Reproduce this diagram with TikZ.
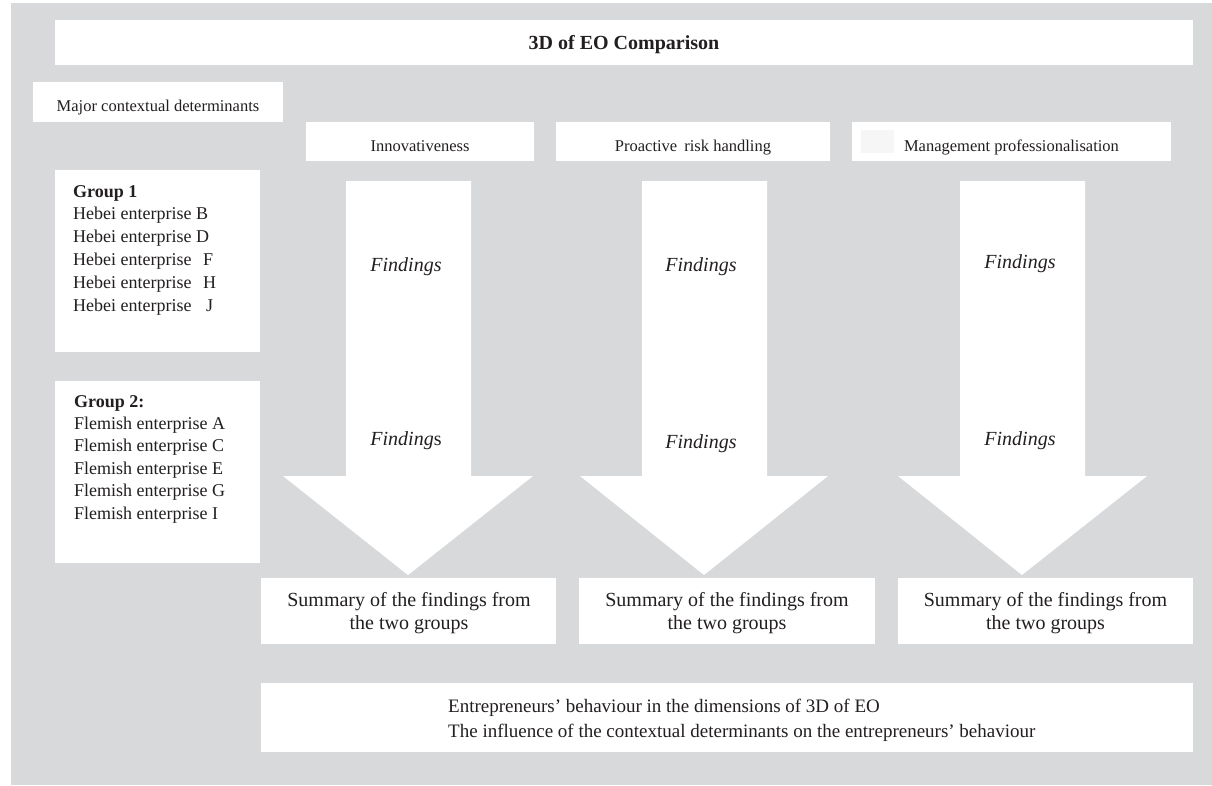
\documentclass[tikz,border=0pt]{standalone}
\usepackage{fontspec}
\setmainfont{Liberation Serif}
\definecolor{bg}{RGB}{216,217,219}
\definecolor{ink}{RGB}{35,31,32}
\definecolor{faint}{RGB}{246,246,247}
\begin{document}
\begin{tikzpicture}[x=1pt,y=-1pt,
  box/.style={fill=white, draw=none, inner sep=0pt, anchor=north west},
  txt/.style={text=ink, inner sep=0pt, anchor=base},
  ltxt/.style={text=ink, inner sep=0pt, anchor=base west},
  hdr/.style={txt, font=\fontsize{16.5}{19}\selectfont},
  grp/.style={ltxt, font=\fontsize{18}{22}\selectfont},
  sum/.style={txt, font=\fontsize{20}{23}\selectfont},
  fnd/.style={txt, font=\fontsize{20}{23}\selectfont\itshape},
  bot/.style={ltxt, font=\fontsize{19}{23}\selectfont},
  bigarrow/.style={fill=white}]
\useasboundingbox (0,0) rectangle (1212,785);
\fill[bg] (11,3) rectangle (1212,785);

% title
\node[box, minimum width=1138, minimum height=45] (title) at (55,20) {};
\node[txt, font=\fontsize{20}{23}\selectfont\bfseries] (titletext) at (624,49.5) {3D of EO Comparison};

% major contextual determinants
\node[box, minimum width=250, minimum height=40] (major) at (33,82) {};
\node[hdr] (majortext) at (158,111.5) {Major contextual determinants};

% dimension headers
\node[box, minimum width=228, minimum height=39] (innov) at (306,122) {};
\node[box, minimum width=274, minimum height=39] (proact) at (556,122) {};
\node[box, minimum width=319, minimum height=39] (manag) at (852,122) {};
\fill[faint] (861,130) rectangle (894,153);
\begin{scope}
\clip (0,0) rectangle (1212,154.5);
\node[hdr] (innovtext) at (420,151.5) {Innovativeness};
\node[hdr] (proacttext) at (693,151.5) {Proactive\hspace{3pt} risk handling};
\node[hdr] (managtext) at (1011.5,151.5) {Management professionalisation};
\end{scope}

% group boxes
\node[box, minimum width=205, minimum height=182] (g1) at (55,170) {};
\node[box, minimum width=205, minimum height=182] (g2) at (55,381) {};
\node[grp, font=\fontsize{18}{22}\selectfont\bfseries] (g1h) at (73,197) {Group 1};
\node[grp] (g1a) at (73,219.8) {Hebei enterprise B};
\node[grp] (g1b) at (73,242.6) {Hebei enterprise D};
\node[grp] (g1c) at (73,265.4) {Hebei enterprise\hspace{7pt} F};
\node[grp] (g1d) at (73,288.2) {Hebei enterprise\hspace{7pt} H};
\node[grp] (g1e) at (73,311) {Hebei enterprise\hspace{10pt} J};
\node[grp, font=\fontsize{18}{22}\selectfont\bfseries] (g2h) at (74,407) {Group 2:};
\node[grp] (g2a) at (74,429.4) {Flemish enterprise A};
\node[grp] (g2b) at (74,451.8) {Flemish enterprise C};
\node[grp] (g2c) at (74,474.2) {Flemish enterprise E};
\node[grp] (g2d) at (74,496.6) {Flemish enterprise G};
\node[grp] (g2e) at (74,519) {Flemish enterprise I};

% big arrows
\fill[bigarrow] (346,181) -- (471,181) -- (471,476) -- (533,476) -- (408,575) -- (283,476) -- (346,476) -- cycle;
\fill[bigarrow] (642,181) -- (767,181) -- (767,476) -- (828,476) -- (704,575) -- (580,476) -- (642,476) -- cycle;
\fill[bigarrow] (960,181) -- (1085,181) -- (1085,476) -- (1147,476) -- (1022,575) -- (898,476) -- (960,476) -- cycle;

\node[fnd] (f1a) at (406,271) {Findings};
\node[fnd] (f1b) at (406,445) {Finding\upshape s};
\node[fnd] (f2a) at (701,271) {Findings};
\node[fnd] (f2b) at (701,448) {Findings};
\node[fnd] (f3a) at (1020,268) {Findings};
\node[fnd] (f3b) at (1020,445) {Findings};

% summary boxes
\node[box, minimum width=295, minimum height=66] (s1) at (261,578) {};
\node[box, minimum width=296, minimum height=66] (s2) at (579,578) {};
\node[box, minimum width=295, minimum height=66] (s3) at (898,578) {};
\node[sum] (s1a) at (409,606) {Summary of the findings from};
\node[sum] (s1b) at (409,629) {the two groups};
\node[sum] (s2a) at (727,606) {Summary of the findings from};
\node[sum] (s2b) at (727,629) {the two groups};
\node[sum] (s3a) at (1045.5,606) {Summary of the findings from};
\node[sum] (s3b) at (1045.5,629) {the two groups};

% bottom box
\node[box, minimum width=932, minimum height=69] (bottom) at (261,683) {};
\node[bot] (b1) at (448,712) {Entrepreneurs’ behaviour in the dimensions of 3D of EO};
\node[bot] (b2) at (448,737.5) {The influence of the contextual determinants on the entrepreneurs’ behaviour};
\end{tikzpicture}
\end{document}
